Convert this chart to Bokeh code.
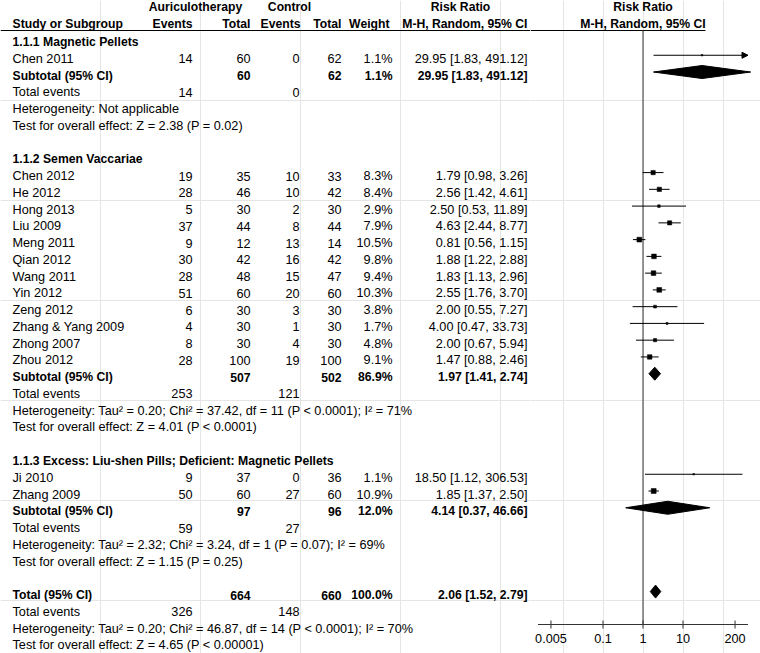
import math
from bokeh.plotting import figure
from bokeh.layouts import row
from bokeh.models import Range1d, ColumnDataSource, Arrow, NormalHead
from bokeh.core.properties import value
from bokeh.embed import file_html
from bokeh.resources import INLINE

# ---------------- data ----------------
group_titles = ["1.1.1 Magnetic Pellets",
                "1.1.2 Semen Vaccariae",
                "1.1.3 Excess: Liu-shen Pills; Deficient: Magnetic Pellets"]

study_names = ["Chen 2011",
               "Chen 2012", "He 2012", "Hong 2013", "Liu 2009", "Meng 2011", "Qian 2012",
               "Wang 2011", "Yin 2012", "Zeng 2012", "Zhang & Yang 2009", "Zhong 2007", "Zhou 2012",
               "Ji 2010", "Zhang 2009"]
study_group = [0, 1, 1, 1, 1, 1, 1, 1, 1, 1, 1, 1, 1, 2, 2]
exp_events = [14, 19, 28, 5, 37, 9, 30, 28, 51, 6, 4, 8, 28, 9, 50]
exp_total = [60, 35, 46, 30, 44, 12, 42, 48, 60, 30, 30, 30, 100, 37, 60]
ctl_events = [0, 10, 10, 2, 8, 13, 16, 15, 20, 3, 1, 4, 19, 0, 27]
ctl_total = [62, 33, 42, 30, 44, 14, 42, 47, 60, 30, 30, 30, 100, 36, 60]
weights = [1.1, 8.3, 8.4, 2.9, 7.9, 10.5, 9.8, 9.4, 10.3, 3.8, 1.7, 4.8, 9.1, 1.1, 10.9]
rr = [29.95, 1.79, 2.56, 2.50, 4.63, 0.81, 1.88, 1.83, 2.55, 2.00, 4.00, 2.00, 1.47, 18.50, 1.85]
rr_lo = [1.83, 0.98, 1.42, 0.53, 2.44, 0.56, 1.22, 1.13, 1.76, 0.55, 0.47, 0.67, 0.88, 1.12, 1.37]
rr_hi = [491.12, 3.26, 4.61, 11.89, 8.77, 1.15, 2.88, 2.96, 3.70, 7.27, 33.73, 5.94, 2.46, 306.53, 2.50]

sub_exp_total = [60, 507, 97]
sub_ctl_total = [62, 502, 96]
sub_exp_events = [14, 253, 59]
sub_ctl_events = [0, 121, 27]
sub_weight = [1.1, 86.9, 12.0]
sub_rr = [29.95, 1.97, 4.14]
sub_lo = [1.83, 1.41, 0.37]
sub_hi = [491.12, 2.74, 46.66]
sub_het = ["Heterogeneity: Not applicable",
           "Heterogeneity: Tau² = 0.20; Chi² = 37.42, df = 11 (P < 0.0001); I² = 71%",
           "Heterogeneity: Tau² = 2.32; Chi² = 3.24, df = 1 (P = 0.07); I² = 69%"]
sub_test = ["Test for overall effect: Z = 2.38 (P = 0.02)",
            "Test for overall effect: Z = 4.01 (P < 0.0001)",
            "Test for overall effect: Z = 1.15 (P = 0.25)"]

tot_exp_total = 664
tot_ctl_total = 660
tot_exp_events = 326
tot_ctl_events = 148
tot_weight = 100.0
tot_rr = 2.06
tot_lo = 1.52
tot_hi = 2.79
tot_het = "Heterogeneity: Tau² = 0.20; Chi² = 46.87, df = 14 (P < 0.0001); I² = 70%"
tot_test = "Test for overall effect: Z = 4.65 (P < 0.00001)"

tick_values = [0.005, 0.1, 1, 10, 200]
tick_labels = ["0.005", "0.1", "1", "10", "200"]

# ---------------- layout constants (pixel units) ----------------
FIG_H = 653
LEFT_X0, SPLIT_X, RIGHT_X1 = 0, 530, 760
X_ONE = 642.5
PX_DEC = 40.0
AX_HALF_DEC = 2.625
AXIS_Y = 624.0
TICK_HALF = 4.0
TICK_LABEL_Y = 637.5
ROW0 = 38.0
ROW_STEP = 16.76
TEXT_DY = 3.5
DIAM_H = 6.5
H1_Y, H2_Y, UL_Y = 6.5, 23.0, 30.0
UL_X1 = 705

X_NAME, X_EEV, X_ETOT, X_CEV, X_CTOT, X_W, X_CI = 12, 192, 250, 299, 341, 392, 527

FONT = value("Liberation Sans")
FS = "12.7px"
FSB = "12.2px"
LINE_GREY = "#333333"


def px_to_val(px):
    return 10 ** ((px - X_ONE) / PX_DEC)


AX_LO = 10 ** (-AX_HALF_DEC)
AX_HI = 10 ** (AX_HALF_DEC)


def row_y(i):
    return ROW0 + ROW_STEP * i


def ci_text(r, l, h):
    return f"{r:.2f} [{l:.2f}, {h:.2f}]"


# ---------------- build rows ----------------
texts = {}  # key (bold, align) -> lists


def add(x, y, t, align="left", bold=False):
    d = texts.setdefault((bold, align), {"x": [], "y": [], "text": []})
    d["x"].append(x)
    d["y"].append(y + TEXT_DY)
    d["text"].append(str(t))


study_rows = []
sub_rows = []
i = 0
for g, title in enumerate(group_titles):
    add(X_NAME, row_y(i), title, bold=True)
    i += 1
    for s in range(len(study_names)):
        if study_group[s] != g:
            continue
        y = row_y(i)
        add(X_NAME, y, study_names[s])
        add(X_EEV, y, exp_events[s], "right")
        add(X_ETOT, y, exp_total[s], "right")
        add(X_CEV, y, ctl_events[s], "right")
        add(X_CTOT, y, ctl_total[s], "right")
        add(X_W, y, f"{weights[s]:.1f}%", "right")
        add(X_CI, y, ci_text(rr[s], rr_lo[s], rr_hi[s]), "right")
        study_rows.append((s, i))
        i += 1
    y = row_y(i)
    add(X_NAME, y, "Subtotal (95% CI)", bold=True)
    add(X_ETOT, y, sub_exp_total[g], "right", True)
    add(X_CTOT, y, sub_ctl_total[g], "right", True)
    add(X_W, y, f"{sub_weight[g]:.1f}%", "right", True)
    add(X_CI, y, ci_text(sub_rr[g], sub_lo[g], sub_hi[g]), "right", True)
    sub_rows.append((sub_rr[g], sub_lo[g], sub_hi[g], i))
    i += 1
    y = row_y(i)
    add(X_NAME, y, "Total events")
    add(X_EEV, y, sub_exp_events[g], "right")
    add(X_CEV, y, sub_ctl_events[g], "right")
    i += 1
    add(X_NAME, row_y(i), sub_het[g])
    i += 1
    add(X_NAME, row_y(i), sub_test[g])
    i += 2

y = row_y(i)
add(X_NAME, y, "Total (95% CI)", bold=True)
add(X_ETOT, y, tot_exp_total, "right", True)
add(X_CTOT, y, tot_ctl_total, "right", True)
add(X_W, y, f"{tot_weight:.1f}%", "right", True)
add(X_CI, y, ci_text(tot_rr, tot_lo, tot_hi), "right", True)
sub_rows.append((tot_rr, tot_lo, tot_hi, i))
i += 1
y = row_y(i)
add(X_NAME, y, "Total events")
add(X_EEV, y, tot_exp_events, "right")
add(X_CEV, y, tot_ctl_events, "right")
i += 1
add(X_NAME, row_y(i), tot_het)
i += 1
add(X_NAME, row_y(i), tot_test)

# headers (left part)
hdr = [
    (195, H1_Y, "Auriculotherapy", "center"),
    (289, H1_Y, "Control", "center"),
    (460, H1_Y, "Risk Ratio", "center"),
    (X_NAME, H2_Y, "Study or Subgroup", "left"),
    (X_EEV, H2_Y, "Events", "right"),
    (X_ETOT, H2_Y, "Total", "right"),
    (X_CEV + 1, H2_Y, "Events", "right"),
    (X_CTOT, H2_Y, "Total", "right"),
    (389, H2_Y, "Weight", "right"),
    (X_CI, H2_Y, "M-H, Random, 95% CI", "right"),
]
for hx, hy, ht, ha in hdr:
    add(hx, hy - TEXT_DY, ht, ha, True)

# ---------------- left figure (table) ----------------
left = figure(width=SPLIT_X - LEFT_X0, height=FIG_H,
              x_range=Range1d(LEFT_X0, SPLIT_X), y_range=Range1d(FIG_H, 0),
              output_backend="svg", toolbar_location=None,
              x_axis_location=None, y_axis_location=None,
              min_border=0, outline_line_color=None, background_fill_color="white")

for (bold, align), d in texts.items():
    left.text(x="x", y="y", text="text", source=ColumnDataSource(d),
              text_font=FONT, text_font_size=FSB if bold else FS,
              text_font_style="bold" if bold else "normal",
              text_align=align, text_baseline="middle", text_color="black")

left.segment(x0=[LEFT_X0], x1=[SPLIT_X], y0=[UL_Y], y1=[UL_Y], line_color="black", line_width=1)

# ---------------- right figure (forest, log scale) ----------------
right = figure(width=RIGHT_X1 - SPLIT_X, height=FIG_H, x_axis_type="log",
               x_range=Range1d(px_to_val(SPLIT_X), px_to_val(RIGHT_X1)),
               y_range=Range1d(FIG_H, 0),
               output_backend="svg", toolbar_location=None,
               x_axis_location=None, y_axis_location=None,
               min_border=0, outline_line_color=None, background_fill_color="white")

# header on the forest side
right.text(x=[1, 1], y=[H1_Y, H2_Y], text=["Risk Ratio", "M-H, Random, 95% CI"],
           text_font=FONT, text_font_size=FSB, text_font_style="bold",
           text_align="center", text_baseline="middle", text_color="black")
right.segment(x0=[px_to_val(SPLIT_X)], x1=[px_to_val(UL_X1)], y0=[UL_Y], y1=[UL_Y],
              line_color="black", line_width=1)

# line of no effect
right.segment(x0=[1], x1=[1], y0=[UL_Y], y1=[AXIS_Y], line_color=LINE_GREY, line_width=1)

# axis (drawn through the log scale)
right.segment(x0=[AX_LO], x1=[AX_HI], y0=[AXIS_Y], y1=[AXIS_Y], line_color=LINE_GREY, line_width=1)
right.segment(x0=tick_values, x1=tick_values,
              y0=[AXIS_Y - TICK_HALF] * len(tick_values), y1=[AXIS_Y + TICK_HALF] * len(tick_values),
              line_color=LINE_GREY, line_width=1)
right.text(x=tick_values, y=[TICK_LABEL_Y] * len(tick_values), text=tick_labels,
           text_font=FONT, text_font_size=FS, text_align="center", text_baseline="middle",
           text_color="black")

# study CIs and squares
seg = {"x0": [], "x1": [], "y": []}
arr = {"x0": [], "x1": [], "y": []}
sq = {"x": [], "y": [], "size": []}
for s, ri in study_rows:
    y = row_y(ri)
    lo_c = max(rr_lo[s], AX_LO)
    if rr_hi[s] > AX_HI:
        arr["x0"].append(lo_c)
        arr["x1"].append(AX_HI)
        arr["y"].append(y)
    else:
        seg["x0"].append(lo_c)
        seg["x1"].append(rr_hi[s])
        seg["y"].append(y)
    sq["x"].append(rr[s])
    sq["y"].append(y)
    sq["size"].append(1.5 * math.sqrt(weights[s]))

right.segment(x0="x0", x1="x1", y0="y", y1="y", source=ColumnDataSource(seg),
              line_color="black", line_width=1)
right.add_layout(Arrow(end=NormalHead(size=6, fill_color="black", line_color="black", line_width=1),
                       x_start="x0", y_start="y", x_end="x1", y_end="y",
                       source=ColumnDataSource(arr), line_color="black", line_width=1))
right.scatter(x="x", y="y", size="size", marker="square", source=ColumnDataSource(sq),
              fill_color="black", line_color="black", line_width=0.5)

# diamonds
dx, dy = [], []
for r, l, h, ri in sub_rows:
    y = row_y(ri)
    dx.append([l, r, h, r])
    dy.append([y, y - DIAM_H, y, y + DIAM_H])
right.patches(xs=dx, ys=dy, fill_color="black", line_color="black", line_width=1)

layout = row(left, right)
open("out.html", "w").write(file_html(layout, INLINE))
